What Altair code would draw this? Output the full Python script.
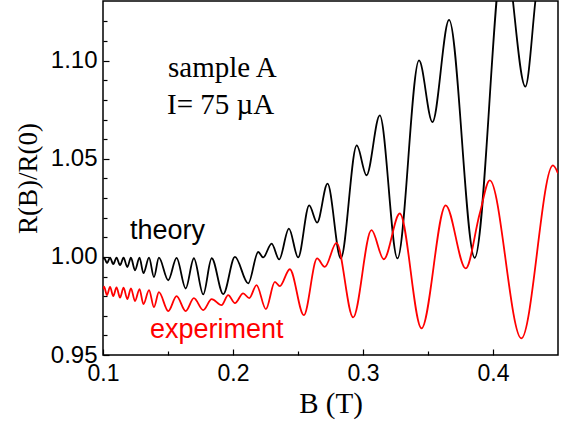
import altair as alt
import pandas as pd

# ---- data (extrema of each curve) ----
theory_B = [0.1000, 0.1008, 0.1031, 0.1054, 0.1079, 0.1104, 0.1131, 0.1158, 0.1187,
            0.1215, 0.1246, 0.1281, 0.1311, 0.1354, 0.1392, 0.1430, 0.1502, 0.1566,
            0.1636, 0.1699, 0.1771, 0.1836, 0.1925, 0.2015, 0.2117, 0.2194, 0.2232,
            0.2297, 0.2355, 0.2430, 0.2501, 0.2586, 0.2647, 0.2727, 0.2829, 0.2952,
            0.3027, 0.3129, 0.3265, 0.3431, 0.3534, 0.3662, 0.3859, 0.4085, 0.4249,
            0.4326, 0.4500]
theory_R = [0.9988, 0.9996, 0.9968, 0.9996, 0.9963, 0.9996, 0.9958, 0.9996, 0.9948,
            0.9996, 0.9932, 0.9996, 0.9917, 0.9996, 0.9897, 0.9996, 0.9881, 0.9995,
            0.9839, 0.9993, 0.9809, 0.9993, 0.9810, 1.0000, 0.9865, 1.0025, 0.9997,
            1.0068, 0.9987, 1.0144, 0.9997, 1.0263, 1.0175, 1.0373, 0.9992, 1.0568,
            1.0416, 1.0721, 0.9992, 1.1001, 1.0687, 1.1208, 0.9995, 1.1570, 1.0868,
            1.1304, 1.2500]

exp_B = [0.1000, 0.1008, 0.1031, 0.1054, 0.1079, 0.1104, 0.1131, 0.1158, 0.1187,
         0.1215, 0.1246, 0.1281, 0.1311, 0.1354, 0.1392, 0.1430, 0.1502, 0.1566,
         0.1636, 0.1699, 0.1771, 0.1836, 0.1912, 0.1963, 0.2015, 0.2078, 0.2125,
         0.2181, 0.2253, 0.2322, 0.2360, 0.2437, 0.2545, 0.2647, 0.2706, 0.2796,
         0.2924, 0.3065, 0.3160, 0.3283, 0.3450, 0.3636, 0.3790, 0.3898, 0.3975,
         0.4218, 0.4461, 0.4500]
exp_R = [0.9835, 0.9848, 0.9805, 0.9847, 0.9800, 0.9845, 0.9792, 0.9843, 0.9785,
         0.9840, 0.9775, 0.9836, 0.9759, 0.9831, 0.9744, 0.9820, 0.9724, 0.9800,
         0.9724, 0.9790, 0.9729, 0.9785, 0.9754, 0.9805, 0.9764, 0.9814, 0.9790,
         0.9856, 0.9734, 0.9873, 0.9851, 0.9937, 0.9703, 0.9992, 0.9949, 1.0071,
         0.9692, 1.0136, 0.9988, 1.0221, 0.9636, 1.0263, 0.9941, 1.0221, 1.0390,
         0.9585, 1.0466, 1.0426]

x_major = [0.1, 0.2, 0.3, 0.4]
x_minor = [0.15, 0.25, 0.35]
y_major = [0.95, 1.00, 1.05, 1.10]
y_minor = [0.96, 0.97, 0.98, 0.99, 1.01, 1.02, 1.03, 1.04, 1.06, 1.07, 1.08, 1.09, 1.11, 1.12]

theory = pd.DataFrame({"B": theory_B, "R": theory_R})
experiment = pd.DataFrame({"B": exp_B, "R": exp_R})

xscale = alt.Scale(domain=[0.1, 0.45], nice=False, zero=False)
yscale = alt.Scale(domain=[0.95, 1.1304], nice=False, zero=False)

LABEL_FONT = "Liberation Sans"
SERIF = "Liberation Serif"

x_axis_major = alt.Axis(values=x_major, format=".1f", title="B (T)", orient="bottom",
                        domain=False, grid=False, tickSize=6, offset=-6, tickColor="black",
                        tickWidth=1.2, labelFont=LABEL_FONT, labelFontSize=23,
                        labelColor="black", labelPadding=7, labelFlush=False,
                        labelOverlap=False, titleFont=SERIF,
                        titleFontSize=29, titleFontWeight="normal", titleColor="black",
                        titlePadding=4)
y_axis_major = alt.Axis(values=y_major, format=".2f", title="R(B)/R(0)", orient="left",
                        domain=False, grid=False, tickSize=6, offset=-6, tickColor="black",
                        tickWidth=1.2, labelFont=LABEL_FONT, labelFontSize=24,
                        labelColor="black", labelPadding=6, labelFlush=False,
                        labelOverlap=False, titleFont=SERIF,
                        titleFontSize=27, titleFontWeight="normal", titleColor="black",
                        titlePadding=8)
x_axis_minor = alt.Axis(values=x_minor, labels=False, title=None, orient="bottom",
                        domain=False, grid=False, tickSize=4, offset=-4,
                        tickColor="black", tickWidth=1.2)
y_axis_minor = alt.Axis(values=y_minor, labels=False, title=None, orient="left",
                        domain=False, grid=False, tickSize=4, offset=-4,
                        tickColor="black", tickWidth=1.2)

black = alt.Chart(theory).mark_line(color="black", strokeWidth=1.8, clip=True,
                                    interpolate="monotone").encode(
    x=alt.X("B:Q", scale=xscale, axis=x_axis_major),
    y=alt.Y("R:Q", scale=yscale, axis=y_axis_major),
)
red = alt.Chart(experiment).mark_line(color="#ff0000", strokeWidth=1.8, clip=True,
                                      interpolate="monotone").encode(
    x=alt.X("B:Q", scale=xscale, axis=x_axis_minor),
    y=alt.Y("R:Q", scale=yscale, axis=y_axis_minor),
)

one = alt.Data(values=[{}])


def label(txt, px, py, size, font, color):
    return alt.Chart(one).mark_text(text=txt, align="left", baseline="alphabetic",
                                    font=font, fontSize=size, color=color).encode(
        x=alt.value(px), y=alt.value(py))


texts = [
    label("sample A", 65, 76, 29, SERIF, "black"),
    label("I= 75 \u00b5A", 64, 113, 29, SERIF, "black"),
    label("theory", 27, 238, 27, LABEL_FONT, "black"),
    label("experiment", 47, 337, 27, LABEL_FONT, "#ff0000"),
]

chart = alt.layer(black, red, *texts).resolve_axis(
    x="independent", y="independent"
).properties(
    width=455, height=354,
    padding={"left": 103, "top": 1, "right": 9, "bottom": 67},
    autosize=alt.AutoSizeParams(type="none"),
    background="white",
).configure_view(stroke="black", strokeWidth=1.5)

chart.save("out.html", embed_options={"renderer": "svg", "actions": False})
